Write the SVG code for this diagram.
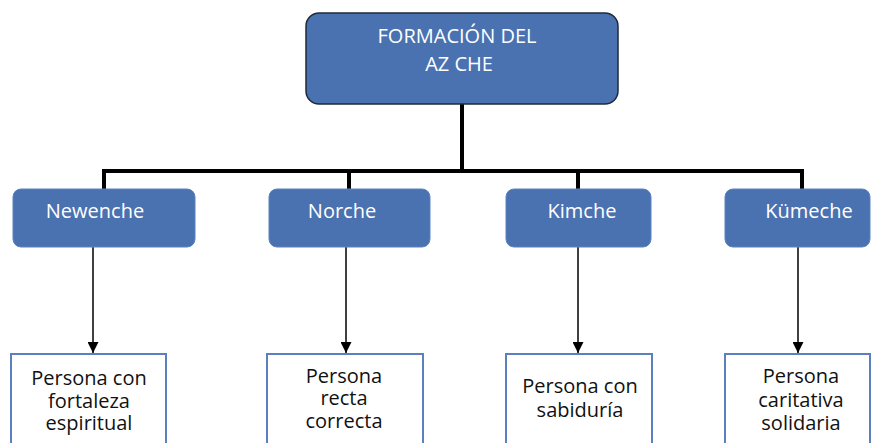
<svg xmlns="http://www.w3.org/2000/svg" width="876" height="443" viewBox="0 0 876 443">
<style>
.hdr{fill:#4a72b0;stroke:#1e2a3a;stroke-width:1.5}
.lvl{fill:#4a72b0;stroke:#5a82c0;stroke-width:1}
.leaf{fill:#fff;stroke:#5b7fbf;stroke-width:2}
.wt{font-family:"Open Sans","Liberation Sans",sans-serif;font-size:20px;fill:#fff;text-anchor:middle}
.bt{font-family:"Open Sans","Liberation Sans",sans-serif;font-size:20px;fill:#111;text-anchor:middle}
.thick{stroke:#000;stroke-width:4;fill:none}
.thin{stroke:#000;stroke-width:1.5;fill:none}
</style>
<defs>
<marker id="ah" viewBox="0 0 10 10" refX="10" refY="5" markerWidth="13" markerHeight="11" markerUnits="userSpaceOnUse" orient="auto">
<path d="M0,0 L10,5 L0,10 Z" fill="#000"/>
</marker>
</defs>
<g id="connectors">
<path class="thick" d="M462,104 V171 M104,171 H802 M104,169 V189 M349,169 V189 M578,169 V189 M802,169 V189"/>
<path class="thin" d="M93,247 V353" marker-end="url(#ah)"/>
<path class="thin" d="M346,247 V353" marker-end="url(#ah)"/>
<path class="thin" d="M578,247 V353" marker-end="url(#ah)"/>
<path class="thin" d="M798,247 V353" marker-end="url(#ah)"/>
</g>
<g id="root">
<rect class="hdr" x="306" y="13" width="312" height="91" rx="13"/>
<text class="wt" x="457" y="43">FORMACIÓN DEL</text>
<text class="wt" x="459" y="71">AZ CHE</text>
</g>
<g id="newenche">
<rect class="lvl" x="13" y="189" width="182" height="58" rx="8"/>
<text class="wt" x="95" y="218">Newenche</text>
</g>
<g id="norche">
<rect class="lvl" x="269" y="189" width="161" height="58" rx="8"/>
<text class="wt" x="342" y="218">Norche</text>
</g>
<g id="kimche">
<rect class="lvl" x="506" y="189" width="145" height="58" rx="8"/>
<text class="wt" x="582" y="218">Kimche</text>
</g>
<g id="kumeche">
<rect class="lvl" x="725" y="189" width="145" height="58" rx="8"/>
<text class="wt" x="809" y="218">Kümeche</text>
</g>
<g id="leaf1">
<rect class="leaf" x="11" y="354" width="155" height="100"/>
<text class="bt" x="89" y="385">Persona con</text>
<text class="bt" x="89" y="408">fortaleza</text>
<text class="bt" x="89" y="430">espiritual</text>
</g>
<g id="leaf2">
<rect class="leaf" x="267" y="354" width="156" height="100"/>
<text class="bt" x="344" y="383">Persona</text>
<text class="bt" x="344" y="405">recta</text>
<text class="bt" x="344" y="428">correcta</text>
</g>
<g id="leaf3">
<rect class="leaf" x="506" y="354" width="146" height="100"/>
<text class="bt" x="580" y="393">Persona con</text>
<text class="bt" x="580" y="417">sabiduría</text>
</g>
<g id="leaf4">
<rect class="leaf" x="725" y="354" width="145" height="100"/>
<text class="bt" x="801" y="383">Persona</text>
<text class="bt" x="801" y="407">caritativa</text>
<text class="bt" x="801" y="430">solidaria</text>
</g>
</svg>
